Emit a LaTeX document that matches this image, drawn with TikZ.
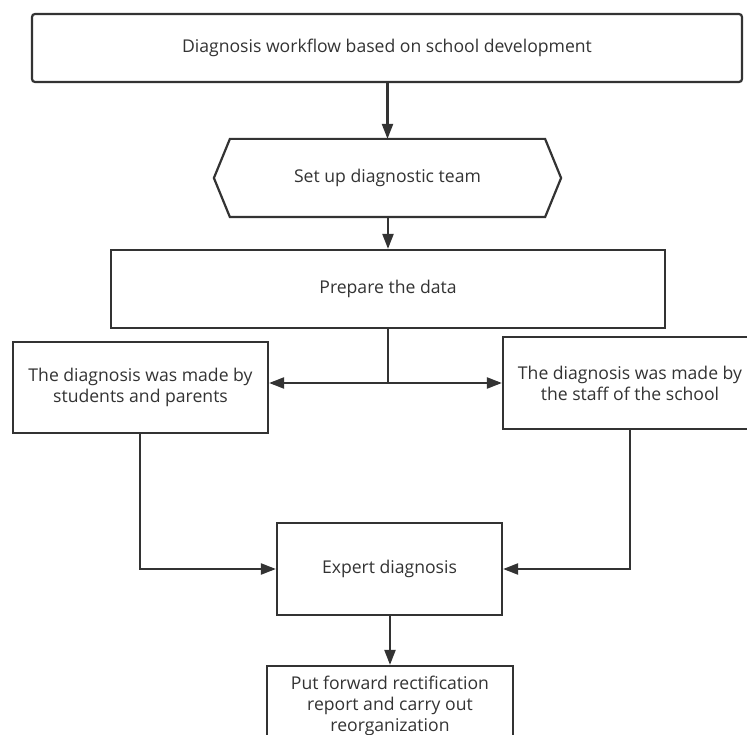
\documentclass[tikz,border=0pt]{standalone}
\usepackage{fontspec}
\setmainfont{Open Sans}
\usetikzlibrary{arrows.meta}
\definecolor{ink}{HTML}{333333}
\begin{document}
\begin{tikzpicture}[x=1pt,y=-1pt,
  box/.style={draw=ink, line width=2.2pt, fill=white, inner sep=0pt, align=center, text=ink,
    font=\fontsize{17.6}{21}\selectfont},
  conn/.style={draw=ink, line width=2.2pt, -{Triangle[length=15pt,width=11pt]}},
  plain/.style={draw=ink, line width=2.2pt}]
\useasboundingbox (0,0) rectangle (747,735);
\clip (0,0) rectangle (747,735);
\node[box, rounded corners=3pt, minimum width=710pt, minimum height=68pt] (top) at (387,48)
  {Diagnosis workflow based on school development};
\node[box, draw=none, fill=none, minimum width=345pt, minimum height=76pt] (team) at (387.5,178)
  {Set up diagnostic team};
\draw[plain, line join=miter] (team.west) -- ([xshift=16pt]team.north west) -- ([xshift=-16pt]team.north east)
  -- (team.east) -- ([xshift=-16pt]team.south east) -- ([xshift=16pt]team.south west) -- cycle;
\node[box, minimum width=554pt, minimum height=78pt] (prep) at (388,289) {Prepare the data};
\node[box, minimum width=255pt, minimum height=91pt] (left) at (140.5,387.5)
  {The diagnosis was made by\\students and parents};
\node[box, minimum width=254pt, minimum height=92pt] (right) at (630,383)
  {The diagnosis was made by\\the staff of the school};
\node[box, minimum width=225pt, minimum height=92pt] (expert) at (389.5,569) {Expert diagnosis};
\node[box, minimum width=246pt, minimum height=79pt] (report) at (390,705.5)
  {Put forward rectification\\report and carry out\\reorganization};
\coordinate (split) at (388,383);
\coordinate (lcorner) at (140,569);
\coordinate (rcorner) at (630,569);
\draw[conn] (top.south -| team.north) -- (team.north);
\draw[conn] (team.south -| prep.north) -- (prep.north);
\draw[plain] (prep.south) -- (split);
\draw[conn] (split) -- (split -| left.east);
\draw[conn] (split) -- (split -| right.west);
\draw[conn] (left.south -| lcorner) -- (lcorner) -- (expert.west);
\draw[conn] (right.south -| rcorner) -- (rcorner) -- (expert.east);
\draw[conn] (expert.south -| report.north) -- (report.north);
\end{tikzpicture}
\end{document}
